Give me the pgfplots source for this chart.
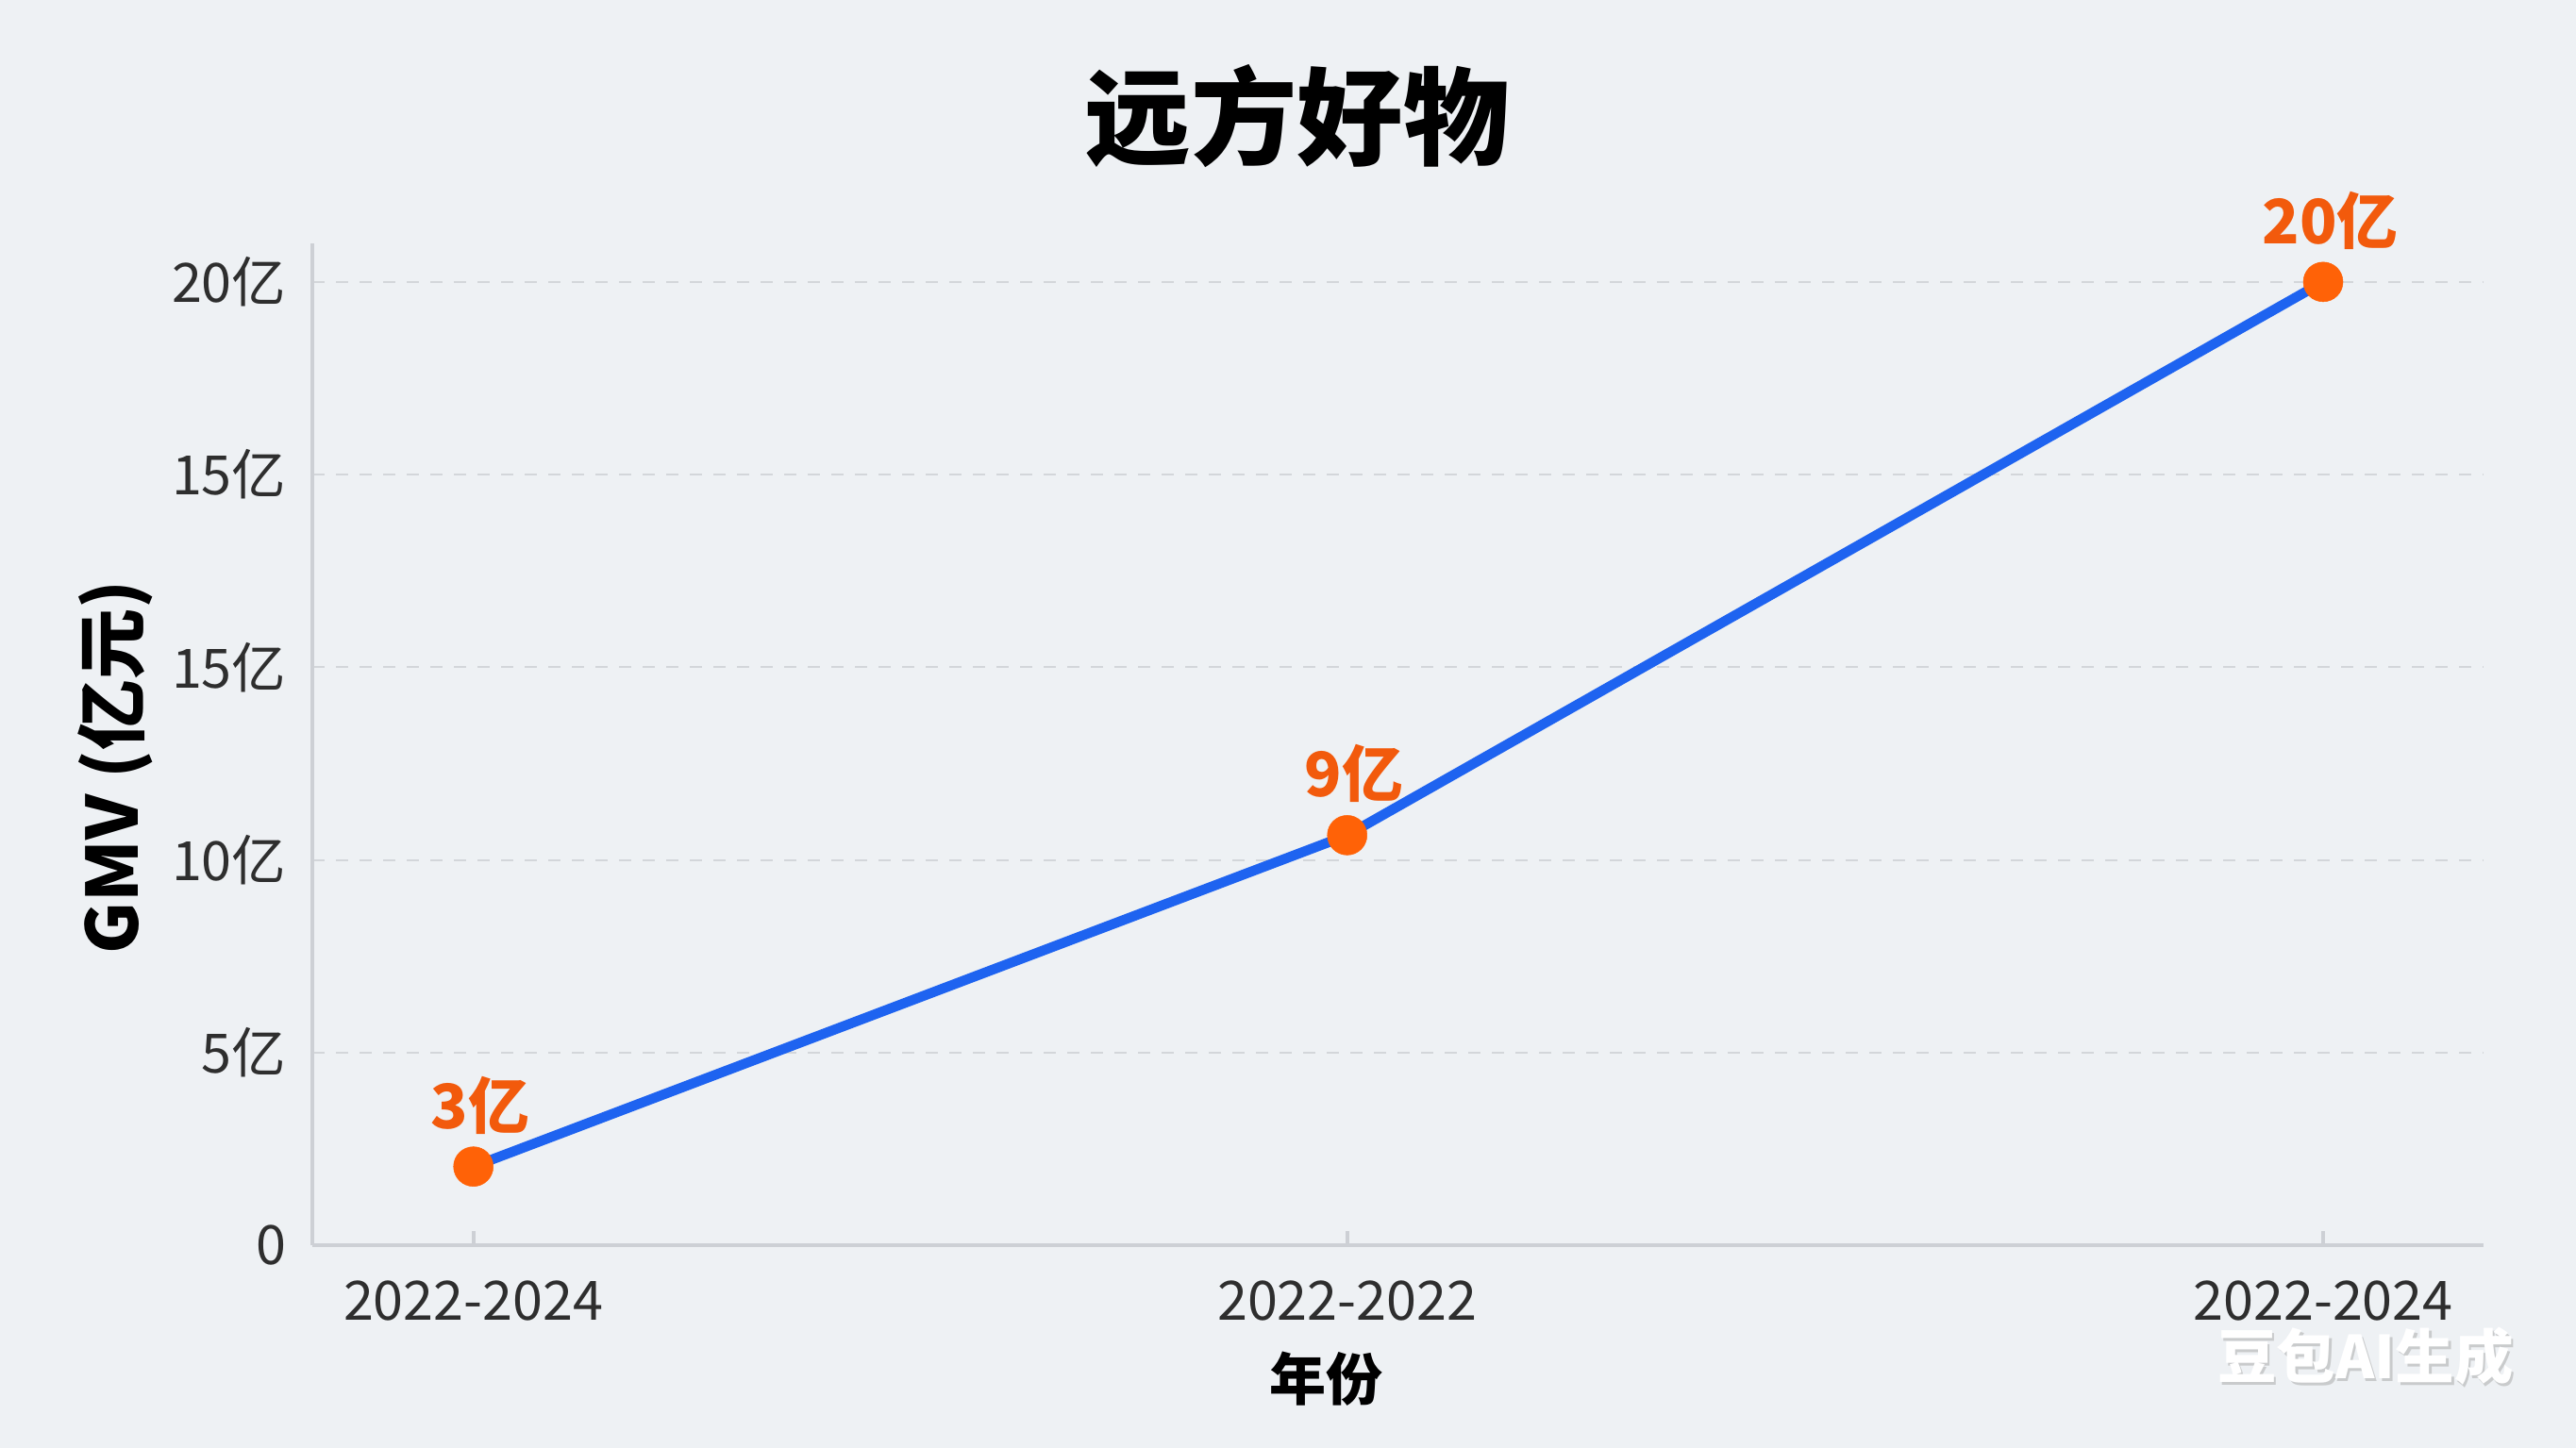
\documentclass[border=0pt]{standalone}
\usepackage{pgfplots}
\pgfplotsset{compat=1.18}
\usepackage{fontspec}
\setmainfont{Noto Sans CJK SC}
\definecolor{bg}{HTML}{EEF1F4}
\definecolor{axisgray}{HTML}{CDD0D5}
\definecolor{gridgray}{HTML}{D3D6DA}
\definecolor{lineblue}{HTML}{1E63F0}
\definecolor{dotorange}{HTML}{FF6207}
\definecolor{lblorange}{HTML}{F25A0C}
\definecolor{ticktext}{HTML}{2E2E2E}
\begin{document}
\begin{tikzpicture}[x=1pt,y=1pt]
\fill[bg] (0,0) rectangle (546,307);
\begin{axis}[
  scale only axis, width=460.2pt, height=212.4pt,
  at={(66.2pt,43pt)}, anchor=south west,
  xmin=331, xmax=2632, ymin=0, ymax=26,
  axis x line*=bottom, axis y line*=left,
  axis line style={draw=axisgray, line width=0.9pt, -},
  xtick={501.7,1427.7,2462},
  xticklabels={2022-2024,2022-2022,2022-2024},
  ytick={0,5,10,15,20,25},
  yticklabels={0,5亿,10亿,15亿,15亿,20亿},
  /pgf/number format/assume math mode=true,
  ymajorgrids,
  y grid style={gridgray, dash pattern=on 2.5pt off 2.5pt, line width=0.4pt},
  ytick style={draw=none},
  xtick style={draw=axisgray, line width=0.8pt},
  tick align=inside, major tick length=3pt,
  ticklabel style={font=\fontsize{11.5}{12}\selectfont, color=ticktext},
  yticklabel style={xshift=-2pt},
  xticklabel style={yshift=-4pt},
  ylabel={GMV (亿元)},
  ylabel style={at={(axis description cs:-0.0908,0.477)}, anchor=center, font=\bfseries\fontsize{15}{15}\selectfont, color=black},
  xlabel={年份},
  xlabel style={at={(axis description cs:0.4668,-0.1337)}, anchor=center, font=\bfseries\fontsize{12}{12}\selectfont, color=black},
  title={远方好物},
  title style={at={(axis description cs:0.4537,1.0984)}, anchor=center, font=\bfseries\fontsize{22.5}{22.5}\selectfont, color=black},
  clip=false,
]
\addplot[line width=2.1pt, color=lineblue, mark=*, mark size=4.2pt,
  mark options={fill=dotorange, draw=dotorange, line width=0.1pt},
  nodes near coords, point meta=explicit symbolic,
  every node near coord/.append style={anchor=center, yshift=13pt, xshift=1.5pt,
    font=\bfseries\fontsize{13}{13}\selectfont, color=lblorange}]
  table[meta=label] {
x y label
501.7 2.04 3亿
1427.7 10.64 9亿
2462 25.0 20亿
};
\end{axis}
\node[font=\bfseries\fontsize{12.5}{12.5}\selectfont, text=black!35, text opacity=0.5] at (501.9,18.9) {豆包AI生成};
\node[font=\bfseries\fontsize{12.5}{12.5}\selectfont, text=white] at (501.4,19.4) {豆包AI生成};
\pgfresetboundingbox
\path[use as bounding box] (0,0) rectangle (546,307);
\end{tikzpicture}
\end{document}
